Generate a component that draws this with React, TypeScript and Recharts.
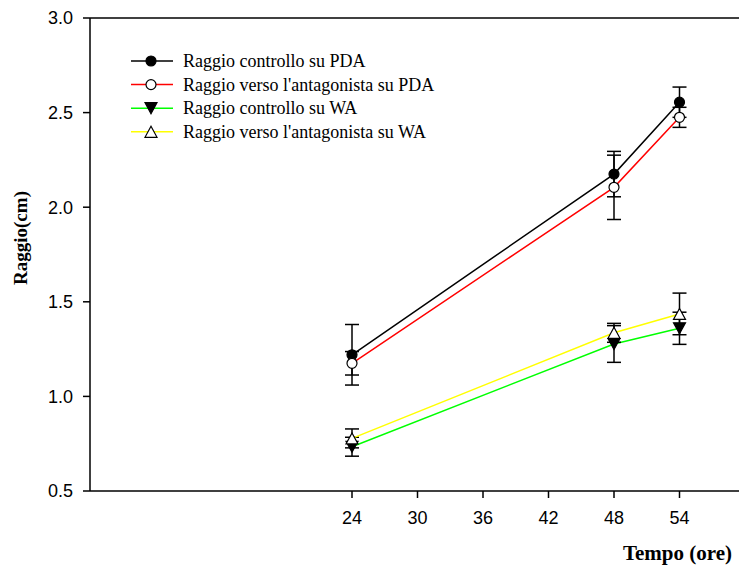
import { LineChart, Line, XAxis, YAxis, ErrorBar, ReferenceLine } from 'recharts';

// Tempo (ore)
const hours = [24, 48, 54];

// Raggio (cm) per series, with error values
const pdaControl = [1.22, 2.175, 2.555];
const pdaControlErr = [0.16, 0.12, 0.08];
const pdaAntag = [1.175, 2.105, 2.475];
const pdaAntagErr = [0.062, 0.17, 0.053];
const waControl = [0.734, 1.277, 1.36];
const waControlErr = [0.05, 0.097, 0.085];
const waAntag = [0.778, 1.336, 1.436];
const waAntagErr = [0.05, 0.05, 0.11];

const xTicks = [24, 30, 36, 42, 48, 54];
const yTicks = [0.5, 1.0, 1.5, 2.0, 2.5, 3.0];

const legendLabels = [
  'Raggio controllo su PDA',
  "Raggio verso l'antagonista su PDA",
  'Raggio controllo su WA',
  "Raggio verso l'antagonista su WA",
];

type MarkerKind = 'circle' | 'openCircle' | 'down' | 'openUp';

interface MarkerProps {
  cx?: number;
  cy?: number;
  kind: MarkerKind;
}

function Marker({ cx, cy, kind }: MarkerProps) {
  if (cx == null || cy == null) return null;
  if (kind === 'circle' || kind === 'openCircle') {
    return (
      <circle
        cx={cx}
        cy={cy}
        r={5}
        fill={kind === 'circle' ? '#000' : '#fff'}
        stroke="#000"
        strokeWidth={1.2}
      />
    );
  }
  const h = 5.5;
  const w = 6;
  const pts =
    kind === 'down'
      ? `${cx - w},${cy - h} ${cx + w},${cy - h} ${cx},${cy + h}`
      : `${cx - w},${cy + h} ${cx + w},${cy + h} ${cx},${cy - h}`;
  return <polygon points={pts} fill={kind === 'down' ? '#000' : '#fff'} stroke="#000" strokeWidth={1.2} />;
}

const data = hours.map((hour, i) => ({
  hour,
  pdaC: pdaControl[i],
  pdaCErr: pdaControlErr[i],
  pdaA: pdaAntag[i],
  pdaAErr: pdaAntagErr[i],
  waC: waControl[i],
  waCErr: waControlErr[i],
  waA: waAntag[i],
  waAErr: waAntagErr[i],
}));

const series: { key: string; err: string; color: string; kind: MarkerKind }[] = [
  { key: 'pdaC', err: 'pdaCErr', color: '#000000', kind: 'circle' },
  { key: 'pdaA', err: 'pdaAErr', color: '#ff0000', kind: 'openCircle' },
  { key: 'waC', err: 'waCErr', color: '#00ff00', kind: 'down' },
  { key: 'waA', err: 'waAErr', color: '#ffff00', kind: 'openUp' },
];

const tickStyle = { fill: '#000', fontSize: 18, fontFamily: 'Liberation Sans, Arial, sans-serif' };

export default function App() {
  return (
    <div
      style={{
        position: 'fixed',
        left: 0,
        top: 0,
        width: 739,
        height: 568,
        overflow: 'hidden',
        background: '#fff',
      }}
    >
      <LineChart width={745} height={568} data={data} margin={{ top: 18, right: 0, left: 0, bottom: 17 }}>
        <XAxis
          dataKey="hour"
          type="number"
          domain={[0, 60]}
          ticks={xTicks}
          height={60}
          tick={tickStyle}
          tickSize={7}
          tickMargin={13}
          axisLine={{ stroke: '#000', strokeWidth: 1.5 }}
          tickLine={{ stroke: '#000', strokeWidth: 1.5 }}
          allowDataOverflow
        />
        <YAxis
          type="number"
          domain={[0.5, 3]}
          ticks={yTicks}
          tickFormatter={(v: number) => v.toFixed(1)}
          width={90}
          tick={tickStyle}
          tickSize={7}
          tickMargin={10}
          axisLine={{ stroke: '#000', strokeWidth: 1.5 }}
          tickLine={{ stroke: '#000', strokeWidth: 1.5 }}
        />
        <ReferenceLine y={3} stroke="#000" strokeWidth={1.5} />
        {series.map((s) => (
          <Line
            key={s.key}
            dataKey={s.key}
            stroke={s.color}
            strokeWidth={1.5}
            isAnimationActive={false}
            dot={(p: { cx?: number; cy?: number; index?: number }) => (
              <Marker key={`${s.key}-${p.index}`} cx={p.cx} cy={p.cy} kind={s.kind} />
            )}
            activeDot={false}
          >
            <ErrorBar dataKey={s.err} direction="y" width={7} stroke="#000" strokeWidth={1.5} />
          </Line>
        ))}
      </LineChart>
      <svg
        width={739}
        height={568}
        style={{ position: 'absolute', left: 0, top: 0, pointerEvents: 'none' }}
      >
        <text
          x={27}
          y={238}
          transform="rotate(-90 27 238)"
          textAnchor="middle"
          fontFamily="Liberation Serif, Times New Roman, serif"
          fontWeight="bold"
          fontSize={19}
        >
          Raggio(cm)
        </text>
        <text
          x={732}
          y={560}
          textAnchor="end"
          fontFamily="Liberation Serif, Times New Roman, serif"
          fontWeight="bold"
          fontSize={21}
        >
          Tempo (ore)
        </text>
        {legendLabels.map((label, i) => {
          const y = 61 + i * 23.6;
          return (
            <g key={label}>
              <line x1={131} x2={173} y1={y} y2={y} stroke={series[i].color} strokeWidth={1.5} />
              <Marker cx={151} cy={y} kind={series[i].kind} />
              <text x={183} y={y + 6} fontFamily="Liberation Serif, Times New Roman, serif" fontSize={18}>
                {label}
              </text>
            </g>
          );
        })}
      </svg>
    </div>
  );
}
